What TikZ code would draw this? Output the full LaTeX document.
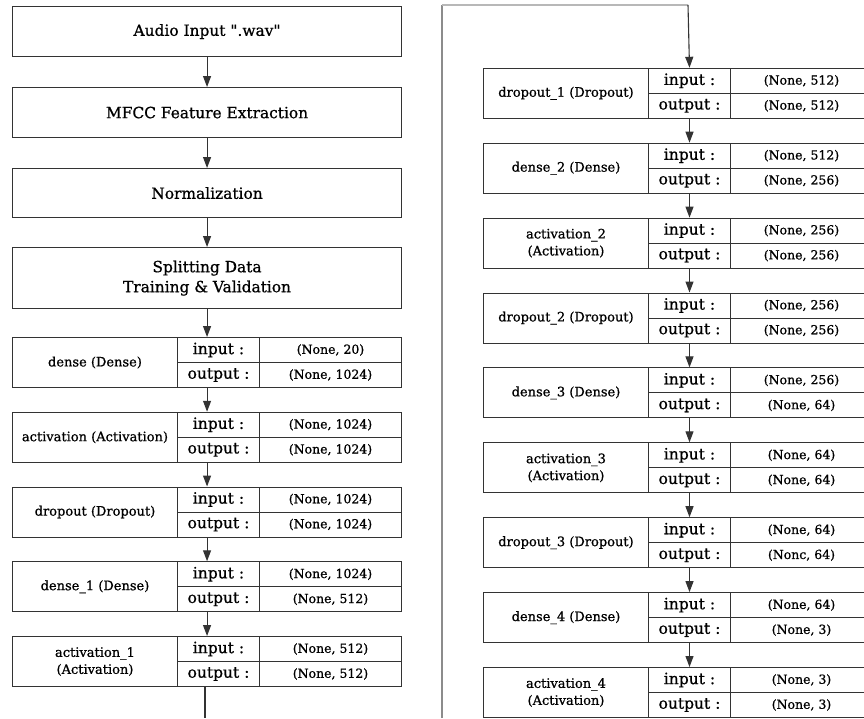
\documentclass[tikz,border=0pt]{standalone}
\usepackage{fontspec}
\setmainfont{DejaVu Serif}[FakeBold=0.8]
\usetikzlibrary{arrows.meta}

\definecolor{edge}{HTML}{333333}
\definecolor{wire}{HTML}{8C8C8C}
\definecolor{wirelight}{HTML}{B8B8B8}

\tikzset{
  stage/.style={draw=edge, line width=1.1pt, fill=white, minimum width=389pt,
    minimum height=50pt, inner sep=0pt, anchor=north west, align=center,
    font=\fontsize{15.4}{20}\selectfont},
  namebox/.style={draw=edge, line width=1pt, minimum width=165pt,
    minimum height=50pt, inner sep=0pt, anchor=north west, align=center,
    font=\fontsize{13}{17}\selectfont},
  keybox/.style={draw=edge, line width=1pt, fill=white, minimum width=82pt,
    minimum height=25pt, inner sep=0pt, anchor=north west,
    font=\fontsize{15.5}{18}\selectfont},
  valbox/.style={draw=edge, line width=1pt, minimum width=142pt,
    minimum height=25pt, inner sep=0pt, anchor=north west,
    font=\fontsize{12.5}{15}\selectfont},
  flow/.style={draw=edge, line width=1.1pt, -{Triangle[length=11pt,width=8pt]}},
  plain/.style={draw=edge, line width=1.1pt},
}

% one Keras layer: name cell, input/output keys and their shapes
% #1 id, #2 left x, #3 top y, #4 layer name, #5 input shape, #6 output shape
\newcommand\nnlayer[6]{%
  \node[namebox] (#1) at (#2,#3) {#4};
  \node[valbox] (#1-iv) at (#2+247,#3) {#5};
  \node[valbox] (#1-ov) at (#2+247,#3+25) {#6};
  \node[keybox] (#1-ik) at (#2+165,#3) {input :};
  \node[keybox] (#1-ok) at (#2+165,#3+25) {output :};
}

\begin{document}
\begin{tikzpicture}[x=1pt,y=-1pt]
  \useasboundingbox (0,0) rectangle (864,718);
  \fill[white] (0,0) rectangle (864,718);
  \clip (0,0) rectangle (864,718);

  % preprocessing stages
  \node[stage] (audio) at (12,6) {Audio Input \textquotedbl.wav\textquotedbl};
  \node[stage] (mfcc) at (12,87) {MFCC Feature Extraction};
  \node[stage, minimum height=49pt] (norm) at (12,168) {Normalization};
  \node[stage, minimum height=61pt] (split) at (12,247)
    {Splitting Data\\Training \& Validation};

  \draw[flow] (audio) -- (mfcc);
  \draw[flow] (mfcc) -- (norm);
  \draw[flow] (norm) -- (split);

  % network, first column
  \nnlayer{L1}{12}{337}{dense (Dense)}{(None, 20)}{(None, 1024)}
  \nnlayer{L2}{12}{411.75}{activation (Activation)}{(None, 1024)}{(None, 1024)}
  \nnlayer{L3}{12}{486.5}{dropout (Dropout)}{(None, 1024)}{(None, 1024)}
  \nnlayer{L4}{12}{561.25}{dense\_1 (Dense)}{(None, 1024)}{(None, 512)}
  \nnlayer{L5}{12}{636}{activation\_1\\(Activation)}{(None, 512)}{(None, 512)}

  \draw[flow] (split.south) -- (split.south |- L1.north);
  \draw[flow] (L1.south -| split.south) -- (L2.north -| split.south);
  \draw[flow] (L2.south -| split.south) -- (L3.north -| split.south);
  \draw[flow] (L3.south -| split.south) -- (L4.north -| split.south);
  \draw[flow] (L4.south -| split.south) -- (L5.north -| split.south);
  \coordinate (leftout) at (205,718);
  \draw[plain] (L5.south -| leftout) -- (leftout);

  % network, second column
  \nnlayer{R1}{483}{67.8}{dropout\_1 (Dropout)}{(None, 512)}{(None, 512)}
  \nnlayer{R2}{483}{142.7}{dense\_2 (Dense)}{(None, 512)}{(None, 256)}
  \nnlayer{R3}{483}{217.6}{activation\_2\\(Activation)}{(None, 256)}{(None, 256)}
  \nnlayer{R4}{483}{292.5}{dropout\_2 (Dropout)}{(None, 256)}{(None, 256)}
  \nnlayer{R5}{483}{367.4}{dense\_3 (Dense)}{(None, 256)}{(None, 64)}
  \nnlayer{R6}{483}{442.3}{activation\_3\\(Activation)}{(None, 64)}{(None, 64)}
  \nnlayer{R7}{483}{517.2}{dropout\_3 (Dropout)}{(None, 64)}{(Nonc, 64)}
  \nnlayer{R8}{483}{592.1}{dense\_4 (Dense)}{(None, 64)}{(None, 3)}
  \nnlayer{R9}{483}{667}{activation\_4\\(Activation)}{(None, 3)}{(None, 3)}

  % wire carrying the flow over to the second column
  \coordinate (wbot) at (442,718);
  \coordinate (wtop) at (442,5);
  \coordinate (wturn) at (688,5);
  \draw[wire, line width=2pt] (wbot) -- (wtop);
  \draw[wirelight, line width=1.5pt] (wtop) -- (wturn);
  \draw[flow] (wturn) -- (R1-ik.north);

  \draw[flow] (R1-ok.south) -- (R2-ik.north);
  \draw[flow] (R2-ok.south) -- (R3-ik.north);
  \draw[flow] (R3-ok.south) -- (R4-ik.north);
  \draw[flow] (R4-ok.south) -- (R5-ik.north);
  \draw[flow] (R5-ok.south) -- (R6-ik.north);
  \draw[flow] (R6-ok.south) -- (R7-ik.north);
  \draw[flow] (R7-ok.south) -- (R8-ik.north);
  \draw[flow] (R8-ok.south) -- (R9-ik.north);
\end{tikzpicture}
\end{document}
